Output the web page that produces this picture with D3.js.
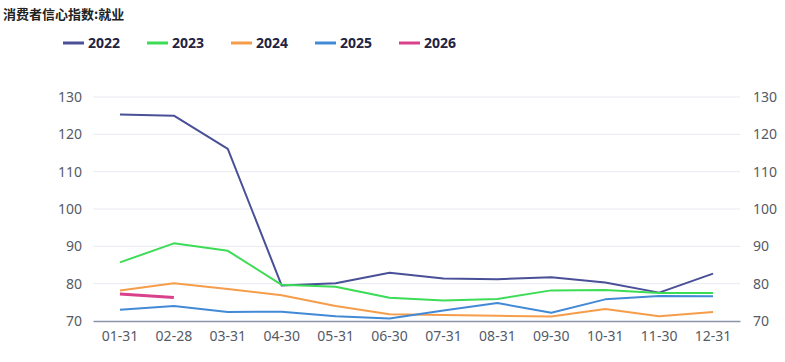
<!DOCTYPE html>
<html>
<head>
<meta charset="utf-8">
<script src="https://cdn.jsdelivr.net/npm/d3@7"></script>
<style>
  body { margin: 0; background: #fff; }
  text { font-family: "Noto Sans", "Noto Sans CJK SC", sans-serif; }
</style>
</head>
<body>
<div id="chart"></div>
<script>
var width = 785;
var height = 362;

var categories = ['01-31', '02-28', '03-31', '04-30', '05-31', '06-30', '07-31', '08-31', '09-30', '10-31', '11-30', '12-31'];
var yTicks = [70, 80, 90, 100, 110, 120, 130];

var s2022 = [125.3, 125.0, 116.1, 79.5, 80.1, 82.9, 81.4, 81.2, 81.7, 80.3, 77.6, 82.7];
var s2023 = [85.7, 90.8, 88.8, 79.7, 79.2, 76.2, 75.5, 75.9, 78.2, 78.3, 77.5, 77.5];
var s2024 = [78.2, 80.1, 78.6, 76.9, 74.0, 71.8, 71.6, 71.4, 71.2, 73.2, 71.3, 72.4];
var s2025 = [73.0, 74.0, 72.4, 72.5, 71.3, 70.7, 72.8, 74.8, 72.2, 75.8, 76.7, 76.6];
var s2026 = [77.2, 76.3];

var seriesNames = ['2022', '2023', '2024', '2025', '2026'];
var seriesValues = [s2022, s2023, s2024, s2025, s2026];
var colors = ['#4a5098', '#3ddc56', '#f59d4a', '#438ad6', '#d9418b'];

var margin = {left: 93, right: 45, top: 97, bottom: 41};
var plotW = width - margin.left - margin.right;
var plotH = height - margin.top - margin.bottom;

var svg = d3.select('#chart').append('svg')
  .attr('width', width).attr('height', height);

// title
svg.append('text')
  .attr('x', 3).attr('y', 19)
  .attr('font-size', 13).attr('font-weight', 'bold')
  .attr('fill', '#222')
  .style('font-family', '"Noto Sans CJK SC", sans-serif')
  .text('消费者信心指数:就业');

// legend
var legendX = [63, 147, 231, 315, 399];
var legend = svg.selectAll('g.legend')
  .data(seriesNames)
  .enter().append('g')
  .attr('class', 'legend')
  .attr('transform', function(d, i){ return 'translate(' + legendX[i] + ',43)'; });
legend.append('line')
  .attr('x1', 0).attr('x2', 21).attr('y1', 0).attr('y2', 0)
  .attr('stroke', function(d, i){ return colors[i]; })
  .attr('stroke-width', 3);
legend.append('text')
  .attr('x', 25).attr('y', 5)
  .attr('font-size', 14).attr('font-weight', 'bold')
  .attr('fill', '#232342')
  .text(function(d){ return d; });

var g = svg.append('g')
  .attr('transform', 'translate(' + margin.left + ',' + margin.top + ')');

var x = d3.scaleBand().domain(categories).range([0, plotW]);
var y = d3.scaleLinear().domain([70, 130]).range([plotH, 0]);

// grid lines
g.selectAll('line.grid')
  .data(yTicks.slice(1))
  .enter().append('line')
  .attr('class', 'grid')
  .attr('x1', 0).attr('x2', plotW)
  .attr('y1', function(d){ return y(d); })
  .attr('y2', function(d){ return y(d); })
  .attr('stroke', '#e8eaf2').attr('stroke-width', 1);

// left axis
var leftAxis = g.append('g')
  .call(d3.axisLeft(y).tickValues(yTicks).tickSize(0).tickPadding(11));
leftAxis.select('.domain').remove();
leftAxis.selectAll('text').attr('font-size', 14).attr('fill', '#555a66');

// right axis
var rightAxis = g.append('g')
  .attr('transform', 'translate(' + plotW + ',0)')
  .call(d3.axisRight(y).tickValues(yTicks).tickSize(0).tickPadding(13));
rightAxis.select('.domain').remove();
rightAxis.selectAll('text').attr('font-size', 14).attr('fill', '#555a66');

// bottom axis
var bottomAxis = g.append('g')
  .attr('transform', 'translate(0,' + plotH + ')')
  .call(d3.axisBottom(x).tickSize(0).tickPadding(10));
bottomAxis.select('.domain').attr('stroke', '#8c94ab').attr('stroke-width', 1.5);
bottomAxis.selectAll('text').attr('font-size', 14).attr('fill', '#555a66');

// lines
var line = d3.line()
  .x(function(d, i){ return x(categories[i]) + x.bandwidth() / 2; })
  .y(function(d){ return y(d); });

g.selectAll('path.series')
  .data(seriesValues)
  .enter().append('path')
  .attr('class', 'series')
  .attr('d', function(d){ return line(d); })
  .attr('fill', 'none')
  .attr('stroke', function(d, i){ return colors[i]; })
  .attr('stroke-width', function(d, i){ return i === 4 ? 3 : 2; })
  .attr('stroke-linejoin', 'round');
</script>
</body>
</html>
